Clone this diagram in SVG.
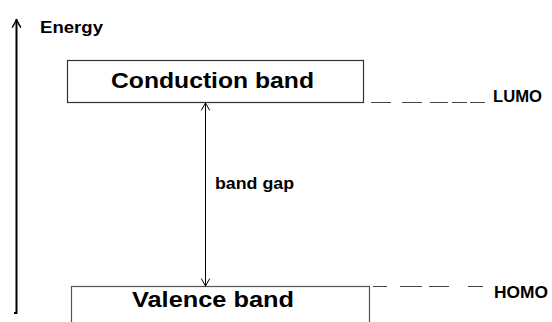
<svg xmlns="http://www.w3.org/2000/svg" width="552" height="322" viewBox="0 0 552 322">
<style>
text{font-family:"Liberation Sans",Arial,sans-serif;font-weight:bold;fill:#000}
.box{fill:#fff;stroke:#333;stroke-width:1.2}
.dash{stroke:#444;stroke-width:1.2;fill:none}
.arr{fill:none;stroke:#000;stroke-linecap:square}
</style>
<rect width="552" height="322" fill="#fff"/>
<g id="conduction">
<rect class="box" x="67.5" y="60.5" width="296" height="42"/>
<text x="111" y="88" font-size="22" textLength="203" lengthAdjust="spacingAndGlyphs">Conduction band</text>
</g>
<g id="valence">
<rect class="box" x="71.5" y="286.5" width="298" height="50" style="stroke:#555"/>
<text x="132" y="307" font-size="22" textLength="162" lengthAdjust="spacingAndGlyphs">Valence band</text>
</g>
<g id="energy">
<path class="arr" d="M16.5 20 V313 H15" stroke-width="2"/>
<path class="arr" d="M12.5 27 L16.5 20 L20.5 27" stroke-width="1.5"/>
<text x="40" y="33" font-size="16" textLength="63" lengthAdjust="spacingAndGlyphs">Energy</text>
</g>
<g id="lumo">
<path class="dash" d="M371 102.5H391M402 102.5H422M430 102.5H448M452 102.5H467M470 102.5H485"/>
<text x="493" y="102" font-size="17" textLength="49" lengthAdjust="spacingAndGlyphs">LUMO</text>
</g>
<g id="homo">
<path class="dash" d="M373 286.5H387M400 286.5H422M429 286.5H449M468 286.5H483"/>
<text x="494" y="298" font-size="17" textLength="54" lengthAdjust="spacingAndGlyphs">HOMO</text>
</g>
<g id="connectors">
<path class="arr" d="M205.5 103 V286" stroke-width="1"/>
<path class="arr" d="M201.5 110 L205.5 103 L209.5 110" stroke-width="1"/>
<path class="arr" d="M201.5 279 L205.5 286 L209.5 279" stroke-width="1"/>
<text x="215" y="189" font-size="16" textLength="79" lengthAdjust="spacingAndGlyphs">band gap</text>
</g>
</svg>
